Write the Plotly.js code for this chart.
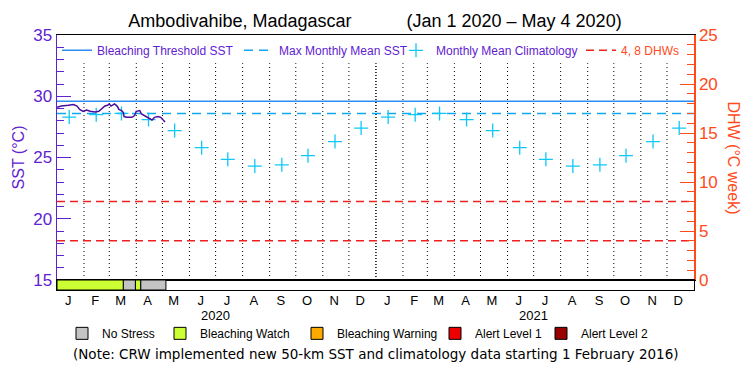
<!DOCTYPE html>
<html>
<head>
<meta charset="utf-8">
<script src="https://cdn.plot.ly/plotly-3.0.1.min.js"></script>
<style>html,body{margin:0;padding:0;background:#fff;}</style>
</head>
<body>
<div id="chart" style="width:750px;height:375px;"></div>
<script>
// ---------- data ----------
const xStart = '2020-01-01';
const xEnd = '2022-01-01';

const monthLetters = ['J','F','M','A','M','J','J','A','S','O','N','D'];
const years = [2020, 2021];

// Daily SST (°C), Jan 1 – May 4 2020
const sstDates = ['2020-01-01','2020-01-06','2020-01-14','2020-01-20','2020-01-24','2020-01-27','2020-01-31',
  '2020-02-04','2020-02-08','2020-02-14','2020-02-18','2020-02-21','2020-02-25','2020-02-28',
  '2020-03-01','2020-03-03','2020-03-07','2020-03-10','2020-03-12','2020-03-15','2020-03-17','2020-03-18',
  '2020-03-21','2020-03-27','2020-03-30','2020-04-01','2020-04-05','2020-04-07','2020-04-10','2020-04-13',
  '2020-04-17','2020-04-19','2020-04-22','2020-04-26','2020-04-29','2020-05-01','2020-05-03','2020-05-04'];
const sstValues = [29.10,29.20,29.26,29.32,29.20,28.93,28.77,
  28.88,28.77,28.72,28.77,28.96,29.20,29.26,
  29.37,29.20,29.37,29.20,28.93,28.83,28.69,28.34,
  28.28,28.28,28.42,28.77,28.83,28.55,28.42,28.34,
  28.14,28.06,28.28,28.34,28.28,28.11,27.95,27.90];

// Monthly mean climatology (°C), mid-month
const climDates = ['2020-01-15','2020-02-15','2020-03-15','2020-04-15','2020-05-15','2020-06-15',
  '2020-07-15','2020-08-15','2020-09-15','2020-10-15','2020-11-15','2020-12-15',
  '2021-01-15','2021-02-15','2021-03-15','2021-04-15','2021-05-15','2021-06-15',
  '2021-07-15','2021-08-15','2021-09-15','2021-10-15','2021-11-15','2021-12-15'];
const climValues = [28.30,28.50,28.60,28.10,27.20,25.80,24.85,24.30,24.40,25.15,26.30,27.40,
  28.30,28.50,28.60,28.10,27.20,25.80,24.85,24.30,24.40,25.15,26.30,27.40];

const mmm = 28.6;              // Max Monthly Mean SST
const bleachThreshold = 29.6;  // MMM + 1
const dhwLevels = [4, 8];

// Stress level segments
const stressStart = ['2020-01-01','2020-03-17','2020-03-31','2020-04-06'];
const stressEnd   = ['2020-03-17','2020-03-31','2020-04-06','2020-05-05'];
const stressLevel = ['Bleaching Watch','No Stress','Bleaching Watch','No Stress'];
const stressNames = ['No Stress','Bleaching Watch','Bleaching Warning','Alert Level 1','Alert Level 2'];
const stressColors = ['#c4c4c4','#ccff33','#ffaa00','#ee0000','#990000'];

// ---------- styles ----------
const PURPLE = '#5f22d0';
const ORANGE = '#ff4a1a';
const FONT = 'Liberation Sans, Arial, sans-serif';
const px2paper = p => (p - 57) / 637;

const traces = [];
const legends = {};

// Stress bars (bottom strip, y3) – each with its own legend box
const stressLegendX = [62, 160, 297, 435, 541];
stressNames.forEach((nm, i) => {
  const xs = [], ws = [];
  stressLevel.forEach((lv, k) => {
    if (lv === nm) {
      const a = new Date(stressStart[k] + 'T00:00:00Z').getTime();
      const b = new Date(stressEnd[k] + 'T00:00:00Z').getTime();
      xs.push(new Date((a + b) / 2).toISOString());
      ws.push(b - a);
    }
  });
  const lg = 'legend' + (i + 5);
  legends[lg] = {
    orientation: 'h', x: px2paper(stressLegendX[i]), xanchor: 'left', y: -0.17, yanchor: 'middle',
    font: {family: FONT, size: 12, color: '#000'}, bgcolor: 'rgba(0,0,0,0)', itemwidth: 30
  };
  traces.push({
    type: 'bar', name: nm, legend: lg,
    x: xs.length ? xs : [null], y: xs.length ? xs.map(() => 1) : [null],
    width: ws.length ? ws : undefined, base: 0,
    xaxis: 'x', yaxis: 'y3',
    marker: {color: stressColors[i], line: {color: '#000', width: 1}},
    hoverinfo: 'skip'
  });
});

const topLegendX = [57, 239, 396, 581];
topLegendX.forEach((p, i) => {
  const lg = i === 0 ? 'legend' : 'legend' + (i + 1);
  legends[lg] = {
    orientation: 'h', x: px2paper(p), xanchor: 'left', y: 0.94, yanchor: 'middle',
    font: {family: FONT, size: 12, color: PURPLE}, bgcolor: 'rgba(0,0,0,0)', itemwidth: 30
  };
});

traces.push({
  type: 'scatter', mode: 'lines', name: 'Bleaching Threshold SST', legend: 'legend',
  x: [xStart, xEnd], y: [bleachThreshold, bleachThreshold],
  line: {color: '#2a8ff0', width: 1.5}, xaxis: 'x', yaxis: 'y'
});
traces.push({
  type: 'scatter', mode: 'lines', name: 'Max Monthly Mean SST', legend: 'legend2',
  x: [xStart, xEnd], y: [mmm, mmm],
  line: {color: '#10a8f0', width: 1.5, dash: '9px,6px'}, xaxis: 'x', yaxis: 'y'
});
traces.push({
  type: 'scatter', mode: 'markers', name: 'Monthly Mean Climatology', legend: 'legend3',
  x: climDates, y: climValues,
  marker: {symbol: 'cross-thin-open', size: 10, line: {color: '#10c8f8', width: 1.3}, color: '#10c8f8'},
  xaxis: 'x', yaxis: 'y'
});
traces.push({
  type: 'scatter', mode: 'lines', name: '<span style="color:' + ORANGE + '">4, 8 DHWs</span>', legend: 'legend4',
  x: [xStart, xEnd, null, xStart, xEnd],
  y: [dhwLevels[0], dhwLevels[0], null, dhwLevels[1], dhwLevels[1]],
  line: {color: '#f02020', width: 1.5, dash: '8px,5px'}, xaxis: 'x', yaxis: 'y2'
});
traces.push({
  type: 'scatter', mode: 'lines', name: 'SST', showlegend: false,
  x: sstDates, y: sstValues,
  line: {color: '#4a0d9e', width: 1.5}, xaxis: 'x', yaxis: 'y'
});

// ticks / gridlines
const tickvals = [], ticktext = [], shapes = [], annotations = [];
years.forEach(yr => {
  monthLetters.forEach((m, i) => {
    const mm = String(i + 1).padStart(2, '0');
    tickvals.push(yr + '-' + mm + '-14');
    ticktext.push(m);
    const start = yr + '-' + mm + '-01';
    if (start !== xStart) {
      const isYear = i === 0;
      shapes.push({
        type: 'line', layer: 'below', xref: 'x', yref: 'y',
        x0: start, x1: start, y0: 15, y1: 32.7,
        line: {color: '#000', width: isYear ? 1.5 : 1, dash: isYear ? '1px,2px' : '1px,3px'}
      });
    }
  });
  annotations.push({
    xref: 'x', yref: 'paper', x: yr + '-07-01', y: -0.1, yanchor: 'middle', xanchor: 'center',
    text: String(yr), showarrow: false, font: {family: FONT, size: 13, color: '#000'}
  });
});

annotations.push({
  xref: 'paper', yref: 'paper', x: px2paper(18), y: 0.52, textangle: -90, xanchor: 'center', yanchor: 'middle',
  text: 'SST (°C)', showarrow: false, font: {family: FONT, size: 16, color: PURPLE}
});
annotations.push({
  xref: 'paper', yref: 'paper', x: px2paper(734), y: 0.52, textangle: 90, xanchor: 'center', yanchor: 'middle',
  text: 'DHW (°C week)', showarrow: false, font: {family: FONT, size: 16, color: ORANGE}
});
annotations.push({
  xref: 'paper', yref: 'paper', x: 0.5, y: -0.25, yanchor: 'middle', xanchor: 'center',
  text: '(Note: CRW implemented new 50-km SST and climatology data starting 1 February 2016)',
  showarrow: false, font: {family: 'DejaVu Sans, sans-serif', size: 13.5, color: '#000'}
});

const layout = Object.assign({
  width: 750, height: 375,
  margin: {l: 57, r: 56, t: 35, b: 85},
  paper_bgcolor: '#fff', plot_bgcolor: '#fff',
  font: {family: FONT, color: '#000'},
  title: {
    text: 'Ambodivahibe, Madagascar' + '\u00a0'.repeat(11) + '(Jan 1 2020 \u2013 May 4 2020)',
    x: 0.5, xanchor: 'center', y: 0.944, yanchor: 'middle',
    font: {family: FONT, size: 18, color: '#000'}
  },
  showlegend: true,
  bargap: 0,
  xaxis: {
    type: 'date', range: [xStart, xEnd], anchor: 'y3',
    tickvals: tickvals, ticktext: ticktext, ticks: '', ticklabelstandoff: -2,
    tickfont: {family: FONT, size: 13, color: '#000'},
    showgrid: false, zeroline: false,
    showline: true, linecolor: '#000', linewidth: 1, mirror: 'all'
  },
  yaxis: {
    domain: [0.0392, 1], range: [15, 35], anchor: 'x',
    tickvals: [15, 20, 25, 30, 35], ticks: 'inside', ticklen: 14, tickcolor: PURPLE, tickwidth: 1,
    minor: {dtick: 1, ticks: 'inside', ticklen: 7, tickcolor: PURPLE, showgrid: false},
    tickfont: {family: FONT, size: 17, color: PURPLE},
    showline: true, linecolor: PURPLE, linewidth: 1.5,
    showgrid: false, zeroline: false
  },
  yaxis2: {
    overlaying: 'y', side: 'right', anchor: 'x', range: [0, 25],
    tickvals: [0, 5, 10, 15, 20, 25], ticks: 'inside', ticklen: 14, tickcolor: ORANGE, tickwidth: 1,
    minor: {dtick: 1, ticks: 'inside', ticklen: 7, tickcolor: ORANGE, showgrid: false},
    tickfont: {family: FONT, size: 17, color: ORANGE},
    showline: true, linecolor: ORANGE, linewidth: 1.5,
    showgrid: false, zeroline: false
  },
  yaxis3: {
    domain: [0, 0.0392], range: [0, 1], anchor: 'x',
    showticklabels: false, ticks: '', showgrid: false, zeroline: false,
    showline: true, linecolor: '#000', linewidth: 1, mirror: true, fixedrange: true
  },
  shapes: shapes,
  annotations: annotations
}, legends);

Plotly.newPlot('chart', traces, layout, {displayModeBar: false, staticPlot: true});
</script>
</body>
</html>
